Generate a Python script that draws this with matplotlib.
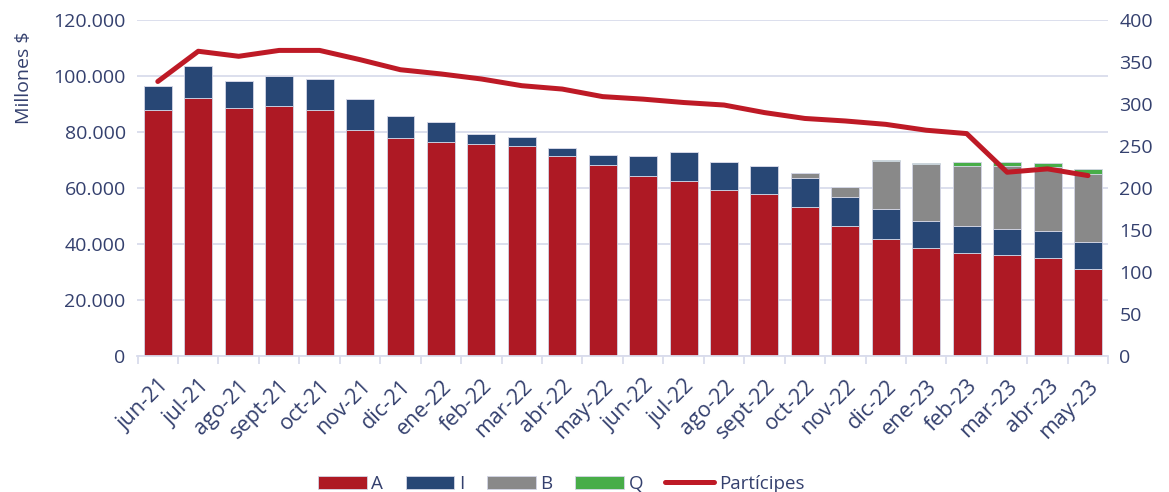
import numpy as np
import matplotlib.pyplot as plt
from matplotlib.ticker import FuncFormatter, FixedLocator

plt.rcParams['font.family'] = ['Open Sans', 'DejaVu Sans']

meses = ["jun-21", "jul-21", "ago-21", "sept-21", "oct-21", "nov-21", "dic-21", "ene-22",
         "feb-22", "mar-22", "abr-22", "may-22", "jun-22", "jul-22", "ago-22", "sept-22",
         "oct-22", "nov-22", "dic-22", "ene-23", "feb-23", "mar-23", "abr-23", "may-23"]

# stacked tops, converted to segment sizes below
top_A = [87800, 92300, 88700, 89500, 87800, 80700, 78100, 76600,
         75800, 74900, 71500, 68400, 64200, 62600, 59400, 58100,
         53400, 46400, 42000, 38600, 36800, 36000, 35000, 31300]
top_I = [96500, 103600, 98400, 100100, 98900, 91900, 85800, 83800,
         79400, 78400, 74500, 72000, 71400, 73000, 69400, 68100,
         63700, 56700, 52700, 48300, 46400, 45500, 44800, 40700]
top_B = [96500, 103600, 98400, 100100, 98900, 91900, 85800, 83800,
         79400, 78400, 74500, 72000, 71400, 73000, 69400, 68100,
         65600, 60500, 69800, 68500, 68000, 68000, 67600, 65200]
top_Q = [96500, 103600, 98400, 100100, 98900, 91900, 85800, 83800,
         79400, 78400, 74500, 72000, 71400, 73000, 69400, 68100,
         65600, 60500, 70000, 69100, 69300, 69300, 69100, 66800]
participes = [327, 363, 357, 364, 364, 353, 341, 336, 330, 322, 318, 309,
              306, 302, 299, 290, 283, 280, 276, 269, 265, 219, 223, 215]

A = np.array(top_A)
I = np.array(top_I) - A
B = np.array(top_B) - np.array(top_I)
Q = np.array(top_Q) - np.array(top_B)

c_A = "#AE1924"
c_I = "#284775"
c_B = "#898989"
c_Q = "#48AD48"
c_line = "#BE1A26"
c_txt = "#34406E"
c_grid = "#D9DCEC"

fig = plt.figure(figsize=(11.69, 4.92), dpi=100)
ax = fig.add_axes([0.117, 0.276, 0.831, 0.683])
x = np.arange(len(meses))
w = 0.69
ek = dict(edgecolor="#D3D6E6", linewidth=0.6, zorder=2)
ax.bar(x, A, w, color=c_A, label="A", **ek)
ax.bar(x, I, w, bottom=A, color=c_I, label="I", **ek)
ax.bar(x, B, w, bottom=A + I, color=c_B, label="B", **ek)
ax.bar(x, Q, w, bottom=A + I + B, color=c_Q, label="Q", **ek)

ax.set_ylim(0, 120000)
ax.set_xlim(-0.52, 23.5)
ax.set_yticks(np.arange(0, 120001, 20000))
ax.yaxis.set_major_formatter(FuncFormatter(lambda v, p: f"{int(v):,}".replace(",", ".")))
ax.grid(axis="y", color=c_grid, linewidth=1.3, zorder=0)
ax.set_axisbelow(True)
for s in ["top", "right", "left"]:
    ax.spines[s].set_visible(False)
ax.spines["bottom"].set_color(c_grid)
ax.spines["bottom"].set_linewidth(1.3)
ax.tick_params(axis="y", length=0, labelsize=14, labelcolor=c_txt, pad=8)
ax.set_xticks(x)
ax.set_xticklabels(meses, rotation=45, ha="right", rotation_mode="anchor")
ax.tick_params(axis="x", which="major", length=0, labelsize=15.5, labelcolor=c_txt, pad=14)
ax.xaxis.set_minor_locator(FixedLocator(np.arange(-0.5, len(meses), 1.0)))
ax.tick_params(axis="x", which="minor", length=6, color=c_grid, width=1.3)
ax.set_ylabel("Millones $", fontsize=14, color=c_txt)
ax.yaxis.set_label_coords(-0.107, 0.83)

ax2 = ax.twinx()
ax2.plot(x, participes, color=c_line, linewidth=3.6, label="Partícipes",
         solid_capstyle="round", zorder=5)
ax2.set_ylim(0, 400)
ax2.set_yticks(np.arange(0, 401, 50))
for s in ["top", "right", "left", "bottom"]:
    ax2.spines[s].set_visible(False)
ax2.tick_params(axis="y", length=0, labelsize=14, labelcolor=c_txt, pad=8)

h1, l1 = ax.get_legend_handles_labels()
h2, l2 = ax2.get_legend_handles_labels()
leg = fig.legend(h1 + h2, l1 + l2, loc="center", bbox_to_anchor=(0.48, 0.017),
                 ncol=5, frameon=False, fontsize=13.5, handlelength=2.6, handleheight=0.7,
                 columnspacing=1.2, handletextpad=0.25)
for t in leg.get_texts():
    t.set_color(c_txt)

fig.savefig("out.png", dpi=100)
